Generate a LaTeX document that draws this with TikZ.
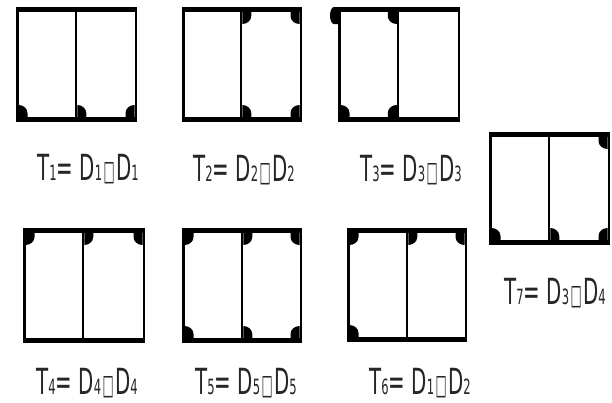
\documentclass[tikz,border=0pt]{standalone}
\usepackage{fontspec}
\newfontfamily\lab[FakeStretch=0.55]{DejaVu Sans}
\newfontfamily\boxfont[FakeStretch=0.42]{DejaVu Sans}
\newcommand\sbs[1]{{\fontsize{21}{21}\selectfont #1}}
\newcommand\bx{\hspace{1.5pt}{\boxfont\fontsize{28}{28}\selectfont □}\hspace{1.5pt}}
% l r t b d
\newcommand\cabinet[5]{%
  \fill[frame] (#1,#3) rectangle (#2,#3+5);
  \fill[frame] (#1,#4-5) rectangle (#2,#4);
  \fill[frame] (#1,#3) rectangle (#1+2.5,#4);
  \fill[frame] (#2-2.5,#3) rectangle (#2,#4);
  \fill[frame] (#5-1.25,#3) rectangle (#5+1.25,#4);}
\newcommand\blob[4]{%
  \fill[frame, shift={(#1,#2)}, xscale=#3, yscale=#4]
    (0,0) -- (9,0) -- (9,4) arc[start angle=0,end angle=90,x radius=9,y radius=8] -- cycle;}
\tikzset{frame/.style={fill=black},
  lbl/.style={font=\lab\fontsize{36}{36}\selectfont, inner sep=0pt, anchor=base, text=black!85}}
\begin{document}
\begin{tikzpicture}[x=1pt,y=-1pt]
\useasboundingbox (0,0) rectangle (612,402);
% T1
\cabinet{16}{137}{7}{122}{76}
\blob{18.5}{117}{1}{-1}
\blob{77.25}{117}{1}{-1}
\blob{134.5}{117}{-1}{-1}
% T2
\cabinet{182}{302}{7}{122}{241}
\blob{242.25}{12}{1}{1}
\blob{299.5}{12}{-1}{1}
\blob{242.25}{117}{1}{-1}
\blob{299.5}{117}{-1}{-1}
% T3
\cabinet{338}{460}{7}{122}{398}
\fill[frame] (338,7) -- (334,7) arc[start angle=270,end angle=90,x radius=4,y radius=8.5] -- (338,24) -- cycle;
\blob{396.75}{12}{-1}{1}
\blob{340.5}{117}{1}{-1}
\blob{396.75}{117}{-1}{-1}
% T7
\cabinet{489}{610}{132}{245}{549}
\blob{607.5}{137}{-1}{1}
\blob{491.5}{240}{1}{-1}
\blob{550.25}{240}{1}{-1}
\blob{607.5}{240}{-1}{-1}
% T4
\cabinet{23}{145}{228}{343}{83}
\blob{25.5}{233}{1}{1}
\blob{84.25}{233}{1}{1}
\blob{142.5}{233}{-1}{1}
% T5
\cabinet{182}{302}{228}{343}{242}
\blob{184.5}{233}{1}{1}
\blob{243.25}{233}{1}{1}
\blob{299.5}{233}{-1}{1}
\blob{184.5}{338}{1}{-1}
\blob{243.25}{338}{1}{-1}
\blob{299.5}{338}{-1}{-1}
% T6
\cabinet{347}{467}{228}{342}{407}
\blob{349.5}{233}{1}{1}
\blob{408.25}{233}{1}{1}
\blob{464.5}{233}{-1}{1}
\blob{349.5}{337}{1}{-1}
% labels
\node[lbl] (t1) at (88,180) {T\sbs{1}= D\sbs{1}\bx D\sbs{1}};
\node[lbl] (t2) at (244,181) {T\sbs{2}= D\sbs{2}\bx D\sbs{2}};
\node[lbl] (t3) at (411,181) {T\sbs{3}= D\sbs{3}\bx D\sbs{3}};
\node[lbl] (t7) at (555,304) {T\sbs{7}= D\sbs{3}\bx D\sbs{4}};
\node[lbl] (t4) at (87,394) {T\sbs{4}= D\sbs{4}\bx D\sbs{4}};
\node[lbl] (t5) at (246,394) {T\sbs{5}= D\sbs{5}\bx D\sbs{5}};
\node[lbl] (t6) at (420,394) {T\sbs{6}= D\sbs{1}\bx D\sbs{2}};
\end{tikzpicture}
\end{document}
